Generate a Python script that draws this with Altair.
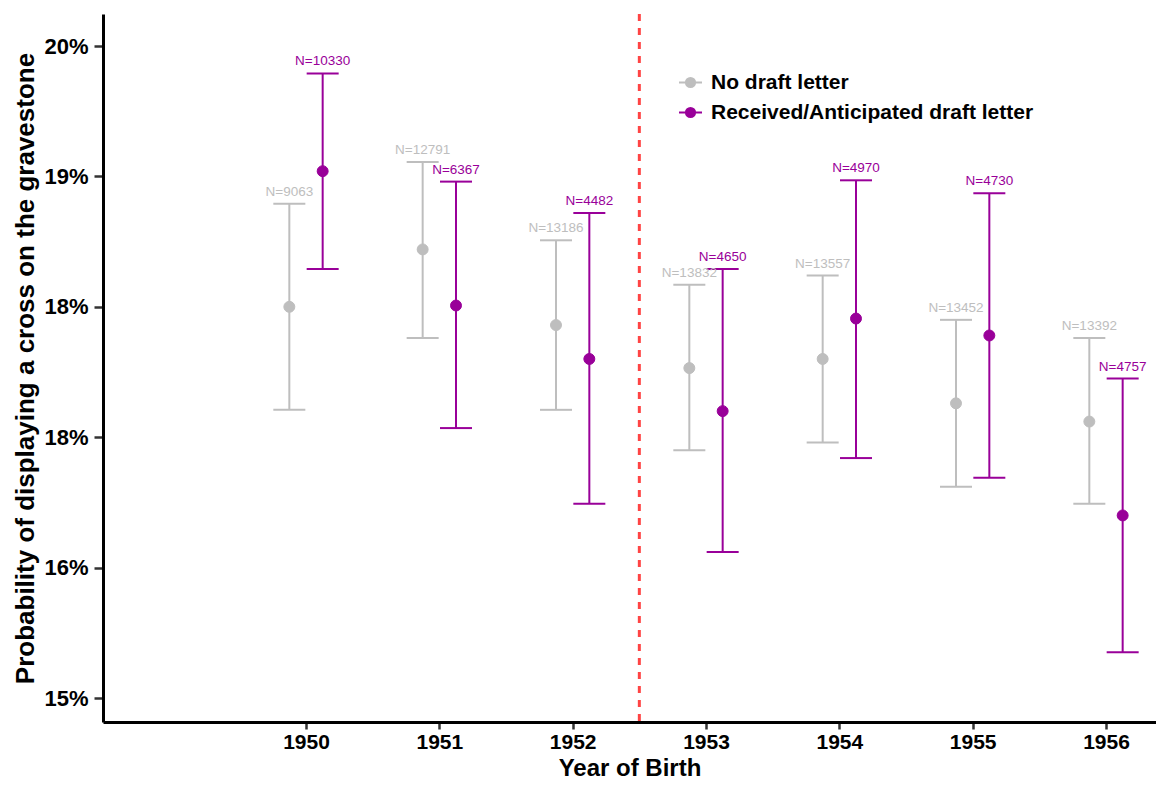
import json
import altair as alt
import pandas as pd

# ---------------- data ----------------
years = [1950, 1951, 1952, 1953, 1954, 1955, 1956]
groups = ["No draft letter", "Received/Anticipated draft letter"]
colors = ["#BEBEBE", "#990099"]

no_pt = [0.1800, 0.1844, 0.1786, 0.1753, 0.1760, 0.1726, 0.1712]
no_lo = [0.1721, 0.1776, 0.1721, 0.1690, 0.1696, 0.1662, 0.1649]
no_hi = [0.1879, 0.1911, 0.1851, 0.1817, 0.1824, 0.1790, 0.1776]
no_n = [9063, 12791, 13186, 13832, 13557, 13452, 13392]

rec_pt = [0.1904, 0.1801, 0.1760, 0.1720, 0.1791, 0.1778, 0.1640]
rec_lo = [0.1829, 0.1707, 0.1649, 0.1612, 0.1684, 0.1669, 0.1535]
rec_hi = [0.1979, 0.1896, 0.1872, 0.1829, 0.1897, 0.1887, 0.1745]
rec_n = [10330, 6367, 4482, 4650, 4970, 4730, 4757]

cutoff_year = 1952.5

y_ticks = [0.15, 0.16, 0.17, 0.18, 0.19, 0.20]
y_tick_labels = ["15%", "16%", "18%", "18%", "19%", "20%"]

# ---------------- table ----------------
rows = []
for i, yr in enumerate(years):
    rows.append(dict(year=yr, group=groups[0], side=-1, pt=no_pt[i], lo=no_lo[i], hi=no_hi[i], n=no_n[i]))
    rows.append(dict(year=yr, group=groups[1], side=1, pt=rec_pt[i], lo=rec_lo[i], hi=rec_hi[i], n=rec_n[i]))
df = pd.DataFrame(rows)

FONT = "Liberation Sans"
DODGE = 0.125
CAP = 0.12

xscale = alt.Scale(domain=[1948.4775, 1956.375], nice=False, zero=False)
yscale = alt.Scale(domain=[0.148160, 0.202454], nice=False, zero=False)
cscale = alt.Scale(domain=groups, range=colors)

legend_path = "M-1,0L1,0M-0.4,0A0.4,0.4,0,1,1,0.4,0A0.4,0.4,0,1,1,-0.4,0Z"
leg = alt.Legend(
    title=None, orient="none", legendX=575, legendY=56,
    symbolType=legend_path, symbolSize=529, symbolStrokeWidth=2,
    labelFontSize=21, labelFontWeight="bold", labelColor="black", labelFont=FONT,
    labelOffset=8, labelLimit=0, rowPadding=7, padding=0,
)

label_expr = f"{json.dumps(y_tick_labels)}[round((datum.value - {y_ticks[0]}) * 100)]"

x_axis = alt.Axis(
    values=years, format="d", title="Year of Birth", grid=False,
    labelFontSize=21, labelFontWeight="bold", labelColor="black", labelFont=FONT,
    titleFontSize=24, titleFontWeight="bold", titleColor="black", titleFont=FONT,
    titleBaseline="alphabetic", titleY=53.5,
    domainWidth=3, domainColor="black", tickWidth=2.5, tickColor="#333333", tickSize=7,
    labelPadding=2,
)
y_axis = alt.Axis(
    values=y_ticks, labelExpr=label_expr,
    title="Probability of displaying a cross on the gravestone", grid=False,
    labelFontSize=22, labelFontWeight="bold", labelColor="black", labelFont=FONT,
    titleFontSize=26, titleFontWeight="bold", titleColor="black", titleFont=FONT,
    domainWidth=3, domainColor="black", tickWidth=2.5, tickColor="#333333", tickSize=9,
    labelPadding=6, titlePadding=5,
)

base = alt.Chart(df).transform_calculate(
    xpos=f"datum.year + datum.side * {DODGE}",
    xl=f"datum.year + datum.side * {DODGE} - {CAP}",
    xr=f"datum.year + datum.side * {DODGE} + {CAP}",
    label="'N=' + datum.n",
)

stroke_enc = alt.Stroke("group:N", scale=cscale, legend=leg)
fill_enc = alt.Fill("group:N", scale=cscale, legend=leg)

bars = base.mark_rule(strokeWidth=2).encode(
    x=alt.X("xpos:Q", scale=xscale, axis=x_axis),
    y=alt.Y("lo:Q", scale=yscale, axis=y_axis),
    y2="hi:Q",
    stroke=stroke_enc,
)
cap_hi = base.mark_rule(strokeWidth=2).encode(
    x=alt.X("xl:Q", scale=xscale), x2="xr:Q",
    y=alt.Y("hi:Q", scale=yscale), stroke=stroke_enc,
)
cap_lo = base.mark_rule(strokeWidth=2).encode(
    x=alt.X("xl:Q", scale=xscale), x2="xr:Q",
    y=alt.Y("lo:Q", scale=yscale), stroke=stroke_enc,
)
points = base.mark_point(size=120, opacity=1, strokeWidth=1).encode(
    x=alt.X("xpos:Q", scale=xscale),
    y=alt.Y("pt:Q", scale=yscale),
    fill=fill_enc, stroke=stroke_enc,
)
labels = base.mark_text(fontSize=13.5, font=FONT, baseline="alphabetic", dy=-8).encode(
    x=alt.X("xpos:Q", scale=xscale),
    y=alt.Y("hi:Q", scale=yscale),
    text="label:N",
    fill=fill_enc,
)
cutoff = alt.Chart(pd.DataFrame({"c": [cutoff_year]})).mark_rule(
    color="#FF4444", strokeDash=[7, 7], strokeWidth=3
).encode(x=alt.X("c:Q", scale=xscale))

chart = alt.layer(cutoff, bars, cap_hi, cap_lo, points, labels).properties(
    width=1053, height=708,
    autosize=alt.AutoSizeParams(type="none"),
    padding={"left": 95, "top": 6, "right": 0, "bottom": 59},
).configure(font=FONT).configure_view(stroke=None)

chart.save("out.html", embed_options={"renderer": "svg", "actions": False})
